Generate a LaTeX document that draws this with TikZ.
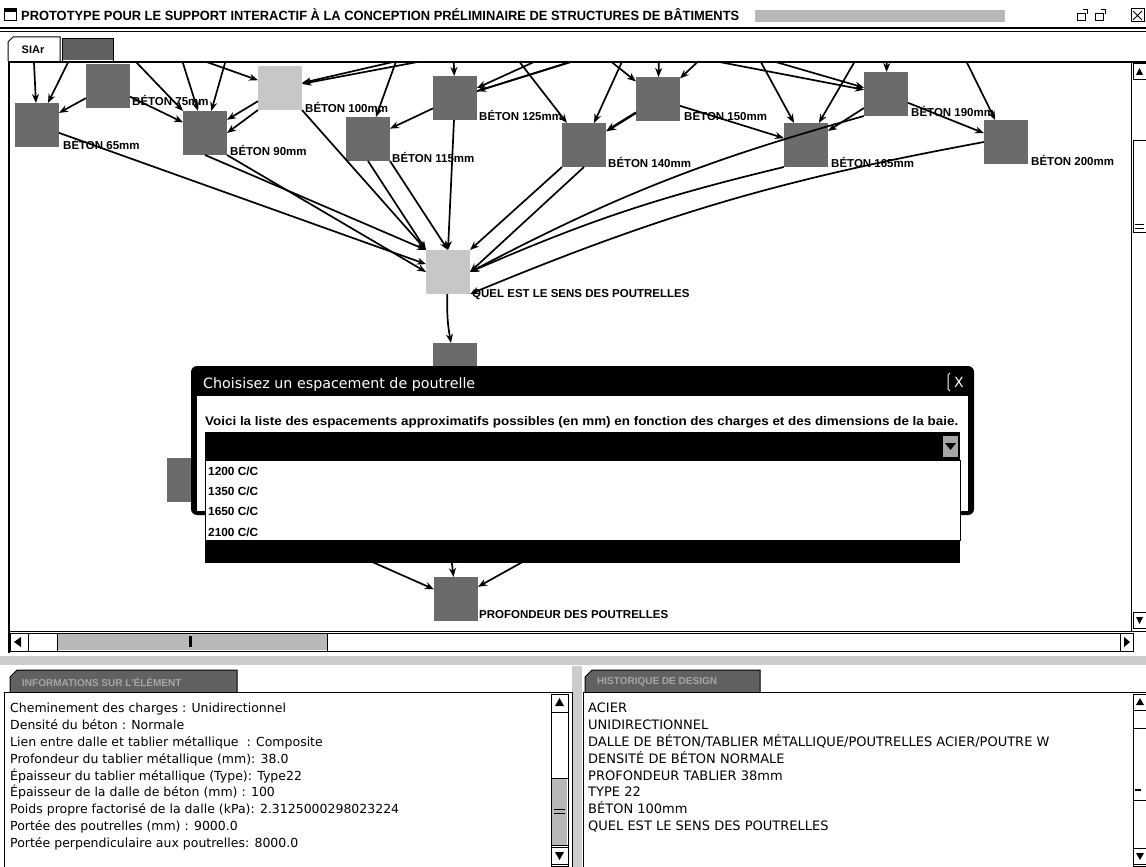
\documentclass[tikz,border=0pt]{standalone}
\usepackage{fontspec}
\usepackage{graphicx}
\setmainfont{Liberation Sans}
\newfontfamily\dvfont{DejaVu Sans}
\usetikzlibrary{arrows.meta}
\begin{document}
\begin{tikzpicture}[x=1pt,y=-1pt,
  gbox/.style={fill=black!58, minimum width=44pt, minimum height=44pt, inner sep=0pt, outer sep=0pt},
  gboxl/.style={gbox, fill=black!22},
  glab/.style={anchor=base west, inner sep=0pt, font=\bfseries\fontsize{11.5}{12}\selectfont},
  edge/.style={line width=1.7pt, -{Stealth[length=9pt,width=7pt]}},
  ptxt/.style={anchor=base west, inner sep=0pt, font=\dvfont\fontsize{12.5}{14}\selectfont},
  rtxt/.style={anchor=base west, inner sep=0pt, font=\dvfont\fontsize{13}{14}\selectfont},
  frame/.style={draw=black, line width=1pt},
  dith/.style={fill=black!28},
  tabtxt/.style={anchor=west, inner sep=0pt, text=black!35, font=\bfseries\fontsize{10}{12}\selectfont},
  itm/.style={anchor=base west, inner sep=0pt},
]
\useasboundingbox (0,0) rectangle (1146,867);
\fill[white] (0,0) rectangle (1146,867);

% ---------- title bar ----------
\draw[line width=1pt] (4,9) rectangle (16,21);
\fill (4,9) rectangle (16,12);
\node[anchor=base west, inner sep=0pt] (title) at (21,21) {\resizebox{718pt}{12pt}{\bfseries PROTOTYPE POUR LE SUPPORT INTERACTIF À LA CONCEPTION PRÉLIMINAIRE DE STRUCTURES DE BÂTIMENTS}};
\fill[dith] (755,10) rectangle (1005,22);
\draw[line width=1pt] (1077,14) rectangle (1085,21);
\draw[line width=1pt] (1083,10) -- (1087,10) -- (1087,14);
\draw[line width=1pt] (1095,14) rectangle (1103,21);
\draw[line width=1pt] (1101,10) -- (1105,10) -- (1105,14);
\draw[line width=1pt] (1131,9) rectangle (1144,22);
\draw[line width=1pt] (1133,11) -- (1142,20) (1133,20) -- (1142,11);
\draw[line width=1.2pt] (0,28) -- (1146,28);
\draw[line width=0.6pt] (0,31) -- (1146,31);

% ---------- tabs ----------
\draw[frame, fill=white] (8,61) -- (8,42) -- (13,37) -- (60,37) -- (60,61);
\node[font=\bfseries\fontsize{11}{12}\selectfont, inner sep=0pt] (tab1) at (33,50) {SIAr};
\fill[black!62] (62,39) rectangle (113,60);
\draw[frame] (62,61) -- (62,39) -- (113,39) -- (113,61);

% ---------- graph area ----------
\begin{scope}
\clip (10,63) rectangle (1131,631);
\node[gbox] (n65) at (37,125) {};
\node[gbox] (n75) at (108,86) {};
\node[gbox] (n90) at (205,133) {};
\node[gboxl] (n100) at (280,88) {};
\node[gbox] (n115) at (368,139) {};
\node[gbox] (n125) at (455,98) {};
\node[gbox] (n140) at (584,145) {};
\node[gbox] (n150) at (658,99) {};
\node[gbox] (n165) at (806,145) {};
\node[gbox] (n190) at (886,94) {};
\node[gbox] (n200) at (1006,142) {};
\node[gboxl] (quel) at (448,272) {};
\node[gbox] (nx) at (455,365) {};
\node[gbox] (nl) at (189,480) {};
\node[gbox] (prof) at (456,599) {};

\node[glab] (l65) at (63,149) {BÉTON 65mm};
\node[glab] (l75) at (132,106) {BÉTON 75mm};
\node[glab] (l90) at (230,155) {BÉTON 90mm};
\node[glab] (l100) at (305,112) {BÉTON 100mm};
\node[glab] (l115) at (392,162) {BÉTON 115mm};
\node[glab] (l125) at (479,120) {BÉTON 125mm};
\node[glab] (l140) at (608,167) {BÉTON 140mm};
\node[glab] (l150) at (684,121) {BÉTON 150mm};
\node[glab] (l165) at (831,167) {BÉTON 165mm};
\node[glab] (l190) at (911,117) {BÉTON 190mm};
\node[glab] (l200) at (1031,165) {BÉTON 200mm};
\node[glab] (lquel) at (472,297) {QUEL EST LE SENS DES POUTRELLES};
\node[glab] (lprof) at (479,618) {PROFONDEUR DES POUTRELLES};

% off-screen sources
\coordinate (t1) at (31,0);
\coordinate (t2) at (99,0);
\coordinate (t3) at (163,0);
\coordinate (t4) at (243,0);
\coordinate (t5) at (187,55);
\coordinate (t6) at (445,50);
\coordinate (t7) at (481,50);
\coordinate (t8) at (411,20);
\coordinate (t9) at (452,10);
\coordinate (t10) at (640,40);
\coordinate (t11) at (604,30);
\coordinate (t12) at (642,40);
\coordinate (t13) at (487,20);
\coordinate (t14) at (641,20);
\coordinate (t15) at (660,10);
\coordinate (t16) at (584,40);
\coordinate (t17) at (721,40);
\coordinate (t18) at (738,20);
\coordinate (t19) at (879,20);
\coordinate (t20) at (888,10);
\coordinate (t21) at (605,40);
\coordinate (t22) at (700,40);
\coordinate (t23) at (946,20);
\coordinate (t24) at (115,40);
\coordinate (h1) at (300,530);
\coordinate (h2) at (447,520);
\coordinate (h3) at (580,530);

\draw[edge] (t1) -- (n65);
\draw[edge] (t2) -- (n65);
\draw[edge] (n75) -- (n65);
\draw[edge] (t3) -- (n90);
\draw[edge] (t4) -- (n90);
\draw[edge] (n75) -- (n90);
\draw[edge] (t24) -- (n90.north west);
\draw[edge] (n100) -- (n90);
\draw[edge] (n100.south west) -- (n90.east);
\draw[edge] (t5) -- (n100);
\draw[edge] (t6) -- (n100);
\draw[edge] (t7) -- (n100);
\draw[edge] (t8) -- (n115);
\draw[edge] (n125) -- (n115);
\draw[edge] (t9) -- (n125);
\draw[edge] (t10) -- (n125);
\draw[edge] (t11) -- (n125);
\draw[edge] (n125) -- (t12);
\draw[edge] (t13) -- (n140);
\draw[edge] (t14) -- (n140);
\draw[line width=2.5pt, -{Stealth[length=10pt,width=8pt]}] (n150) -- (n140);
\draw[edge] (t15) -- (n150);
\draw[edge] (t16) -- (n150);
\draw[edge] (t17) -- (n150);
\draw[edge] (n150) -- (n165);
\draw[edge] (t18) -- (n165);
\draw[edge] (t19) -- (n165);
\draw[edge] (n190) -- (n165);
\draw[edge] (t20) -- (n190);
\draw[edge] (t21) -- (n190);
\draw[edge] (t22) -- (n190);
\draw[edge] (n190) -- (n200);
\draw[edge] (t23) -- (n200);

\draw[edge] (n65) -- (quel);
\draw[edge] (n90.south) -- (quel.north west);
\draw[edge] (n90.south east) -- (quel.west);
\draw[edge] (n100.south east) -- (quel.north west);
\draw[edge] (n115.south) -- (quel.north west);
\draw[edge] (n115.south east) -- (quel.north);
\draw[edge] (n125) -- (quel.north);
\draw[edge] (n140.south west) -- (quel.north east);
\draw[edge] (n140.south) -- (quel.east);
\draw[edge] (n165.south west) to[bend right=5] (quel.east);
\draw[edge] (n190.south west) to[bend right=6] (quel.east);
\draw[edge] (n200.west) to[bend right=6] (quel.south east);
\draw[edge] (quel) to[bend right=6] (nx);
\draw[edge] (h1) -- (prof);
\draw[edge] (h2) -- (prof);
\draw[edge] (h3) -- (prof);
\end{scope}

% graph frame
\draw[line width=2pt] (8,62) -- (1146,62);
\draw[line width=2pt] (9,62) -- (9,653);
\draw[line width=1pt] (1131,63) -- (1131,631);
\draw[line width=1pt] (9,631) -- (1146,631);

% vertical scrollbar (graph)
\draw[frame] (1133,64) rectangle (1146,80);
\fill (1139.5,68) -- (1136,75) -- (1143,75) -- cycle;
\draw[frame] (1133,140) rectangle (1146,232);
\draw[line width=0.8pt] (1135,224) -- (1144,224) (1135,228) -- (1144,228);
\draw[frame] (1133,612) rectangle (1146,628);
\fill (1139.5,624) -- (1136,617) -- (1143,617) -- cycle;

% horizontal scrollbar (graph)
\draw[frame] (10,633) rectangle (1133,651);
\draw[frame] (10,633) rectangle (28,651);
\fill (14,642) -- (21,637) -- (21,647) -- cycle;
\fill[dith] (57,634) rectangle (327,650);
\draw[frame] (57,633) -- (57,651) (327,633) -- (327,651);
\fill (189,636) rectangle (192,647);
\draw[frame] (1120,633) rectangle (1133,651);
\fill (1130,642) -- (1124,637) -- (1124,647) -- cycle;

% ---------- dialog ----------
\fill[black, rounded corners=6pt] (191,366) rectangle (974,515);
\fill[white] (197,396) rectangle (968,511);
\node[anchor=base west, inner sep=0pt, text=white] (dtitle) at (203,388) {\resizebox{272pt}{!}{\dvfont Choisisez un espacement de poutrelle}};
\draw[white, line width=1pt] (950,373) -- (948,375) -- (948,389) -- (950,391);
\node[inner sep=0pt, text=white, font=\dvfont\fontsize{14}{14}\selectfont] (dclose) at (959,382) {X};
\node[anchor=base west, inner sep=0pt] (dmsg) at (205,425) {\resizebox{753pt}{9pt}{\bfseries Voici la liste des espacements approximatifs possibles (en mm) en fonction des charges et des dimensions de la baie.}};
\fill (205,432) rectangle (960,460);
\fill[black!35] (943,436) rectangle (958,457);
\fill (945,443) -- (956,443) -- (950.5,450) -- cycle;
\draw[frame, fill=white] (205,460) rectangle (960,540);
\node[itm] (i1) at (208,475) {\resizebox{50pt}{8.5pt}{\bfseries 1200 C/C}};
\node[itm] (i2) at (208,495) {\resizebox{50pt}{8.5pt}{\bfseries 1350 C/C}};
\node[itm] (i3) at (208,515) {\resizebox{50pt}{8.5pt}{\bfseries 1650 C/C}};
\node[itm] (i4) at (208,536) {\resizebox{50pt}{8.5pt}{\bfseries 2100 C/C}};
\fill (205,540) rectangle (960,563);

% ---------- dividers ----------
\fill[black!20] (0,656) rectangle (1146,665);
\fill[black!20] (572,666) rectangle (582,867);

% ---------- left panel ----------
\fill[black!62] (10,692) -- (10,677) -- (17,670) -- (237,670) -- (237,692) -- cycle;
\draw[frame] (10,692) -- (10,677) -- (17,670) -- (237,670) -- (237,692);
\node[tabtxt] (tabL) at (22,682) {INFORMATIONS SUR L'ÉLÉMENT};
\draw[frame] (4,692) rectangle (572,870);
\node[ptxt] (a1) at (10,712) {Cheminement des charges : Unidirectionnel};
\node[ptxt] (a2) at (10,729) {Densité du béton : Normale};
\node[ptxt] (a3) at (10,746) {Lien entre dalle et tablier métallique~ : Composite};
\node[ptxt] (a4) at (10,763) {Profondeur du tablier métallique (mm): 38.0};
\node[ptxt] (a5) at (10,780) {Épaisseur du tablier métallique (Type): Type22};
\node[ptxt] (a6) at (10,796) {Épaisseur de la dalle de béton (mm) : 100};
\node[ptxt] (a7) at (10,813) {Poids propre factorisé de la dalle (kPa): 2.3125000298023224};
\node[ptxt] (a8) at (10,830) {Portée des poutrelles (mm) : 9000.0};
\node[ptxt] (a9) at (10,847) {Portée perpendiculaire aux poutrelles: 8000.0};
\draw[frame, fill=white] (551,694) rectangle (568,866);
\draw[frame] (551,694) rectangle (568,712);
\fill (559.5,698) -- (555,706) -- (564,706) -- cycle;
\fill[dith] (552,778) rectangle (567,845);
\draw[frame] (551,778) -- (568,778) (551,845) -- (568,845);
\draw[line width=0.8pt] (554,809) -- (565,809) (554,813) -- (565,813);
\draw[frame] (551,847) rectangle (568,864);
\fill (559.5,860) -- (555,852) -- (564,852) -- cycle;

% ---------- right panel ----------
\fill[black!62] (585,692) -- (585,677) -- (592,670) -- (760,670) -- (760,692) -- cycle;
\draw[frame] (585,692) -- (585,677) -- (592,670) -- (760,670) -- (760,692);
\node[tabtxt] (tabR) at (597,682) {HISTORIQUE DE DESIGN};
\draw[frame] (583,692) rectangle (1150,870);
\node[rtxt] (b1) at (588,712) {ACIER};
\node[rtxt] (b2) at (588,729) {UNIDIRECTIONNEL};
\node[rtxt] (b3) at (588,746) {DALLE DE BÉTON/TABLIER MÉTALLIQUE/POUTRELLES ACIER/POUTRE W};
\node[rtxt] (b4) at (588,763) {DENSITÉ DE BÉTON NORMALE};
\node[rtxt] (b5) at (588,780) {PROFONDEUR TABLIER 38mm};
\node[rtxt] (b6) at (588,796) {TYPE 22};
\node[rtxt] (b7) at (588,813) {BÉTON 100mm};
\node[rtxt] (b8) at (588,830) {QUEL EST LE SENS DES POUTRELLES};
\draw[frame, fill=white] (1133,694) rectangle (1150,866);
\draw[frame] (1133,694) rectangle (1150,710);
\fill (1140,698) -- (1136,705) -- (1144,705) -- cycle;
\draw[frame] (1133,728) -- (1150,728);
\draw[frame] (1133,800) -- (1150,800);
\draw[line width=1.5pt] (1135,790) -- (1141,790);
\draw[frame] (1133,848) rectangle (1150,864);
\fill (1140,860) -- (1136,853) -- (1144,853) -- cycle;
\end{tikzpicture}
\end{document}
